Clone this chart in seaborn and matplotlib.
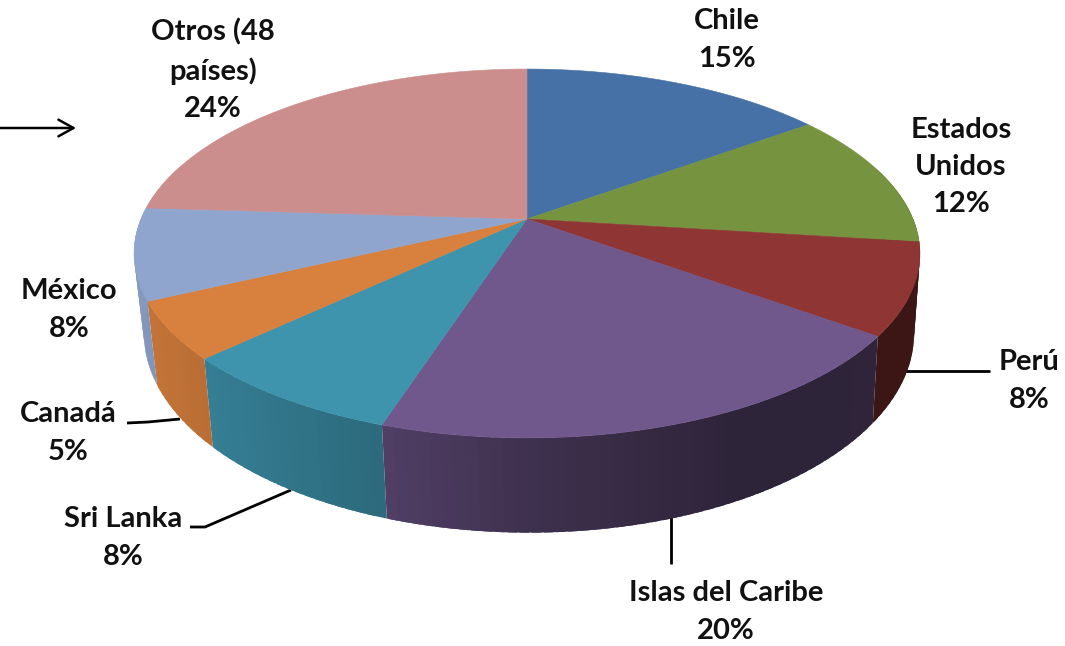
import numpy as np
import matplotlib
matplotlib.use("Agg")
import matplotlib.pyplot as plt
import seaborn as sns

categories = ["Chile", "Estados\nUnidos", "Perú", "Islas del Caribe", "Sri Lanka", "Canadá", "México", "Otros (48\npaíses)"]
shares = [15, 12, 8, 20, 8, 5, 8, 24]
colors = ["#4571a7", "#769440", "#8f3533", "#70578c", "#3e93ad", "#d8803d", "#8fa5ce", "#cc8d8d"]

# where each label block is centred, pixels
label_x = [727, 961, 1029, 726, 123, 68, 69, 213]
label_y = [40, 167, 381, 612, 538, 433, 310, 70]

sns.set_theme(style="white")
plt.rcParams["font.family"] = ["Lato", "DejaVu Sans"]
palette = sns.color_palette(colors)

# fake perspective of the pie, fitted on the picture
cx, cy = 527, 219
radius = 386
squash = 178
persp = 0.187
depth = 77
shrink = 0.98
bottom_dx = 2


def project(theta, bottom=False):
    x = np.sin(theta)
    y = -np.cos(theta)
    w = 1 - persp * y
    if bottom:
        return cx + bottom_dx + shrink * radius * x / w, cy + (squash * y + depth) / w
    return cx + radius * x / w, cy + squash * y / w


def side_shade(theta):
    return np.interp(np.sin(theta), [-1, -0.73, -0.31, 0, 0.45, 1], [0.93, 0.86, 0.72, 0.56, 0.41, 0.42])


fig, ax = plt.subplots(figsize=(10.65, 6.46), dpi=100)
ax.set_position([0, 0, 1, 1])
ax.set_xlim(0, 1065)
ax.set_ylim(646, 0)
ax.axis("off")

edges = np.cumsum([0] + shares) / sum(shares) * 2 * np.pi

# outer wall first, in thin strips so the shading runs along it
# each strip runs a bit into the next one, that hides the seams
for i, col in enumerate(palette):
    n = max(int(np.degrees(edges[i + 1] - edges[i]) / 1.5), 1)
    steps = np.linspace(edges[i], edges[i + 1], n + 1)
    for a, b in zip(steps[:-1], steps[1:]):
        mid = (a + b) / 2
        if np.cos(mid) > 0.3:
            continue
        arc = np.linspace(a, min(b + 0.02, edges[i + 1]), 4)
        xt, yt = project(arc)
        xb, yb = project(arc[::-1], bottom=True)
        shade = np.clip(np.array(col) * side_shade(mid), 0, 1)
        ax.fill(np.r_[xt, xb], np.r_[yt, yb], color=shade, lw=0, zorder=2)

# top face
for i, col in enumerate(palette):
    arc = np.linspace(edges[i], edges[i + 1], 120)
    xt, yt = project(arc)
    ax.fill(np.r_[cx, xt], np.r_[cy, yt], color=col, lw=0.4, zorder=3)

for name, val, x, y in zip(categories, shares, label_x, label_y):
    ax.text(x, y, f"{name}\n{val}%", ha="center", va="center", fontsize=21,
            fontweight="bold", color="#111111", linespacing=1.53, zorder=5)

# leader lines
line_kw = dict(color="black", lw=2, zorder=1, solid_capstyle="butt")
ax.plot([905, 990], [371, 371], **line_kw)
ax.plot([671, 671], [516, 564], **line_kw)
ax.plot([180, 148, 127], [419, 422, 423], **line_kw)
ax.plot([291, 205, 190], [490, 527, 527], **line_kw)

ax.annotate("", xy=(76, 128), xytext=(0, 128),
            arrowprops=dict(arrowstyle="->,head_length=0.9,head_width=0.5", color="black", lw=1.8,
                            shrinkA=0, shrinkB=0))

fig.savefig("out.png", dpi=100, facecolor="white")
